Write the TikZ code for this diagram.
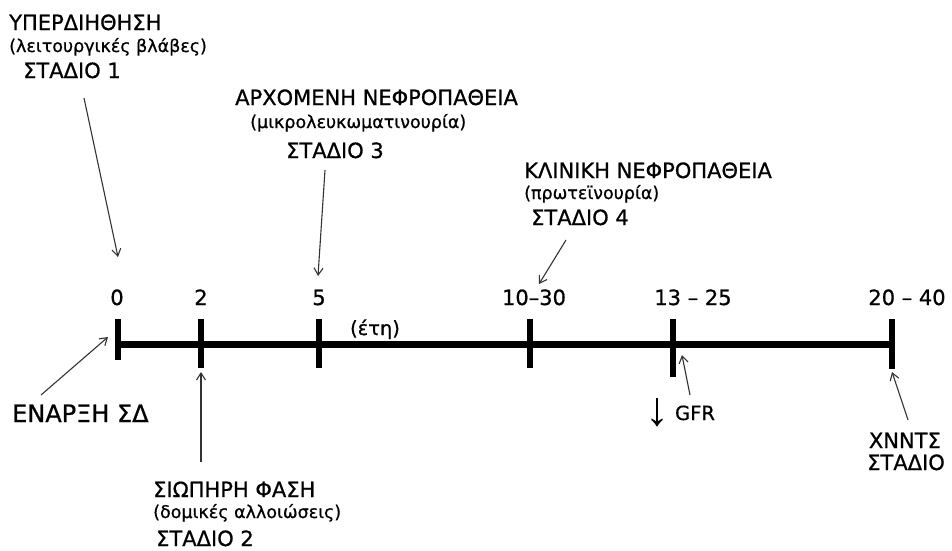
\documentclass[tikz,border=0pt]{standalone}
\usepackage{fontspec}
\setmainfont{DejaVu Sans}[FakeBold=0.8]
\newfontfamily\arrowglyph{Liberation Sans}
\usetikzlibrary{arrows.meta}
\begin{document}
\begin{tikzpicture}[x=1pt,y=-1pt,
  captext/.style={font=\fontsize{21}{21}\selectfont, anchor=base west, inner sep=0pt},
  lowtext/.style={font=\fontsize{17.5}{17.5}\selectfont, anchor=base west, inner sep=0pt},
  numtext/.style={font=\fontsize{21}{21}\selectfont, anchor=base, inner sep=0pt},
  pointer/.style={draw=black!80, line width=1.1pt, -{Straight Barb[length=7pt,width=9pt]}},
  axisline/.style={line width=7pt},
  tickmark/.style={line width=6pt},
]
\useasboundingbox (0,0) rectangle (952,550);

% time axis
\coordinate (t0) at (118,344);
\coordinate (t2) at (201,344);
\coordinate (t5) at (319,344);
\coordinate (t10) at (530,344);
\coordinate (t13) at (673,344);
\coordinate (t20) at (892,344);
\draw[axisline] (t0) -- (t20);
\draw[tickmark] (118,319) -- (118,360);
\draw[tickmark] (201,319) -- (201,368);
\draw[tickmark] (319,319) -- (319,368);
\draw[tickmark] (530,319) -- (530,368);
\draw[tickmark] (673,319) -- (673,377);
\draw[tickmark] (892,319) -- (892,369);

% year labels
\node[numtext] (n0) at (117,305) {0};
\node[numtext] (n2) at (201,305) {2};
\node[numtext] (n5) at (319,305) {5};
\node[numtext] (n10) at (534,305) {10–30};
\node[numtext] (n13) at (693,305) {13 – 25};
\node[numtext] (n20) at (907,305) {20 – 40};
\node[lowtext, font=\fontsize{19.5}{19.5}\selectfont, anchor=base] (years) at (375,335) {(έτη)};

% stage 1
\node[captext] (s1a) at (9,30) {ΥΠΕΡΔΙΗΘΗΣΗ};
\node[lowtext] (s1b) at (9,52) {(λειτουργικές βλάβες)};
\node[captext] (s1c) at (23,78) {ΣΤΑΔΙΟ 1};
\coordinate (s1from) at (84,98);
\coordinate (s1to) at (118,257);
\draw[pointer] (s1from) -- (s1to);

% stage 3
\node[captext] (s3a) at (235,105) {ΑΡΧΟΜΕΝΗ ΝΕΦΡΟΠΑΘΕΙΑ};
\node[lowtext] (s3b) at (250,128) {(μικρολευκωματινουρία)};
\node[captext] (s3c) at (286,158) {ΣΤΑΔΙΟ 3};
\coordinate (s3from) at (325,170);
\coordinate (s3to) at (318,276);
\draw[pointer] (s3from) -- (s3to);

% stage 4
\node[captext] (s4a) at (524,178) {ΚΛΙΝΙΚΗ ΝΕΦΡΟΠΑΘΕΙΑ};
\node[lowtext] (s4b) at (524,199) {(πρωτεϊνουρία)};
\node[captext] (s4c) at (531,225) {ΣΤΑΔΙΟ 4};
\coordinate (s4from) at (566,240);
\coordinate (s4to) at (539,284);
\draw[pointer] (s4from) -- (s4to);

% onset
\node[captext, font=\fontsize{24}{24}\selectfont] (onset) at (12,422) {ΕΝΑΡΞΗ ΣΔ};
\coordinate (onfrom) at (41,395);
\coordinate (onto) at (108,337);
\draw[pointer] (onfrom) -- (onto);

% stage 2
\node[captext] (s2a) at (153,497) {ΣΙΩΠΗΡΗ ΦΑΣΗ};
\node[lowtext] (s2b) at (153,518) {(δομικές αλλοιώσεις)};
\node[captext] (s2c) at (156,546) {ΣΤΑΔΙΟ 2};
\coordinate (s2from) at (201,462);
\coordinate (s2to) at (201,372);
\draw[pointer] (s2from) -- (s2to);

% GFR decline
\node[font=\arrowglyph\fontsize{48}{48}\selectfont, anchor=base, inner sep=0pt] (down) at (657,425) {↓};
\node[numtext, font=\fontsize{19.5}{19.5}\selectfont] (gfr) at (695,420) {GFR};
\coordinate (gfrfrom) at (690,395);
\coordinate (gfrto) at (682,355);
\draw[pointer] (gfrfrom) -- (gfrto);

% end stage
\node[captext, anchor=base east] (s5a) at (941,448) {ΧΝΝΤΣ};
\node[captext, anchor=base east] (s5b) at (945,470) {ΣΤΑΔΙΟ};
\coordinate (s5from) at (908,420);
\coordinate (s5to) at (892,372);
\draw[pointer] (s5from) -- (s5to);
\end{tikzpicture}
\end{document}
